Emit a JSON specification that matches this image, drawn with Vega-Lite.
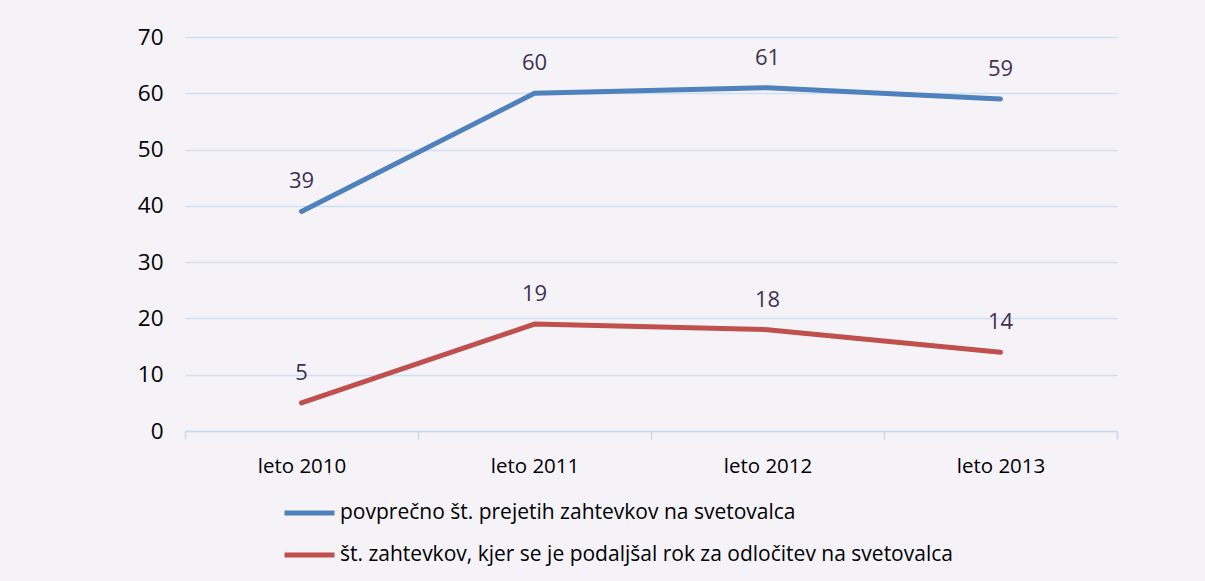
{
  "$schema": "https://vega.github.io/schema/vega-lite/v6.json",
  "width": 932,
  "height": 394,
  "autosize": {"type": "none"},
  "padding": {"left": 185, "top": 37, "right": 88, "bottom": 150},
  "background": "#f5f3f8",
  "config": {
    "font": "Open Sans",
    "view": {"stroke": null},
    "axis": {"labelFont": "Open Sans", "labelFontSize": 20.5, "labelColor": "#000000"}
  },
  "data": {
    "values": [
      {"leto": "leto 2010", "serija": "povprečno št. prejetih zahtevkov na svetovalca", "vrednost": 39},
      {"leto": "leto 2011", "serija": "povprečno št. prejetih zahtevkov na svetovalca", "vrednost": 60},
      {"leto": "leto 2012", "serija": "povprečno št. prejetih zahtevkov na svetovalca", "vrednost": 61},
      {"leto": "leto 2013", "serija": "povprečno št. prejetih zahtevkov na svetovalca", "vrednost": 59},
      {"leto": "leto 2010", "serija": "št. zahtevkov, kjer se je podaljšal rok za odločitev na svetovalca", "vrednost": 5},
      {"leto": "leto 2011", "serija": "št. zahtevkov, kjer se je podaljšal rok za odločitev na svetovalca", "vrednost": 19},
      {"leto": "leto 2012", "serija": "št. zahtevkov, kjer se je podaljšal rok za odločitev na svetovalca", "vrednost": 18},
      {"leto": "leto 2013", "serija": "št. zahtevkov, kjer se je podaljšal rok za odločitev na svetovalca", "vrednost": 14}
    ]
  },
  "encoding": {
    "x": {
      "field": "leto", "type": "nominal", "title": null,
      "scale": {"paddingInner": 0, "paddingOuter": 0},
      "axis": {
        "labelAngle": 0, "tickBand": "extent", "domainColor": "#c9daee", "tickColor": "#c9daee",
        "domainWidth": 1.5, "tickWidth": 1.5, "tickSize": 8, "labelPadding": 17, "grid": false
      }
    },
    "y": {
      "field": "vrednost", "type": "quantitative", "title": null,
      "scale": {"domain": [0, 70], "nice": false},
      "axis": {
        "values": [0, 10, 20, 30, 40, 50, 60, 70], "domain": false, "ticks": false,
        "labelFontSize": 22.5, "labelPadding": 22, "gridColor": "#cfe0f2", "gridWidth": 1.5
      }
    },
    "color": {
      "field": "serija", "type": "nominal", "title": null,
      "scale": {
        "domain": ["povprečno št. prejetih zahtevkov na svetovalca", "št. zahtevkov, kjer se je podaljšal rok za odločitev na svetovalca"],
        "range": ["#4f81bd", "#c0504d"]
      },
      "legend": {
        "orient": "none", "legendX": 97, "legendY": 465, "direction": "vertical",
        "symbolType": "stroke", "symbolSize": 2500, "symbolStrokeWidth": 5,
        "labelFontSize": 21, "labelFont": "Open Sans", "labelColor": "#000000",
        "labelOffset": 3, "rowPadding": 20, "clipHeight": 22, "labelLimit": 900
      }
    }
  },
  "layer": [
    {"mark": {"type": "line", "strokeWidth": 5, "strokeCap": "round"}},
    {
      "mark": {"type": "text", "dy": -30, "fontSize": 22, "font": "Open Sans"},
      "encoding": {"text": {"field": "vrednost", "type": "quantitative"}, "color": {"value": "#3f3151"}}
    }
  ]
}
